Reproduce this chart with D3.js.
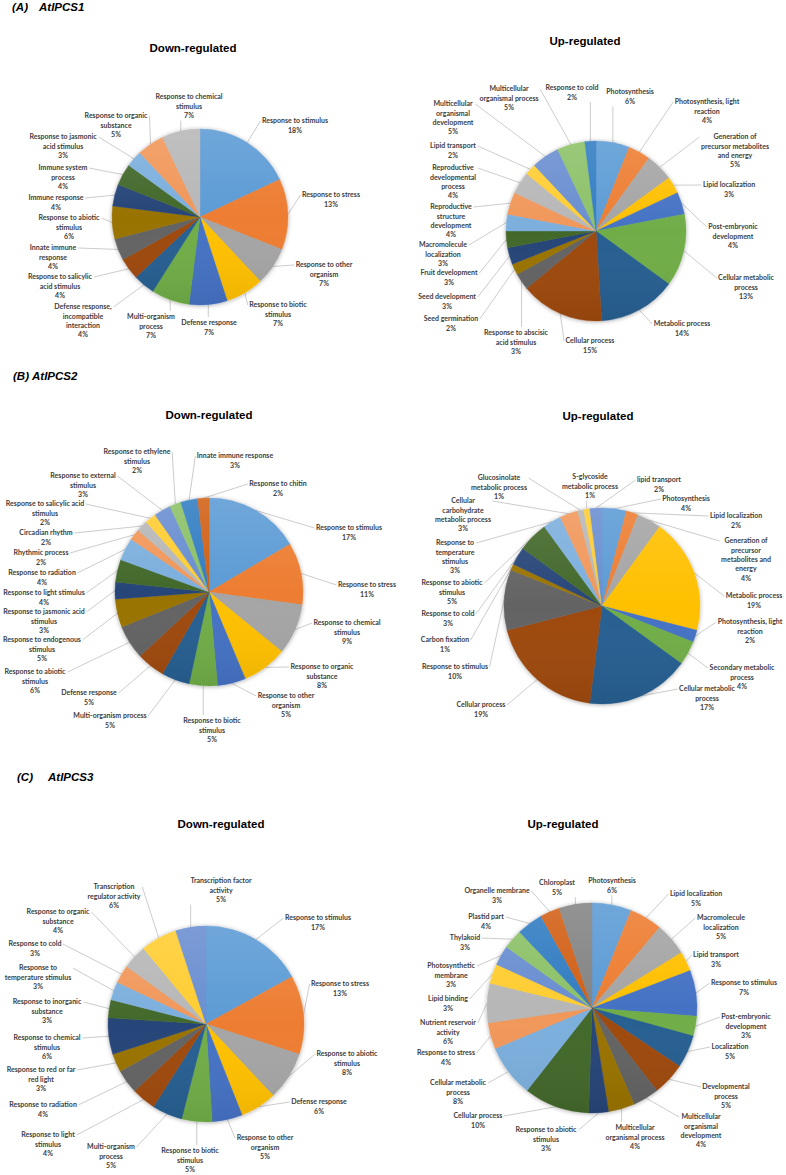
<!DOCTYPE html>
<html><head><meta charset="utf-8">
<script src="https://cdn.jsdelivr.net/npm/d3@7/dist/d3.min.js"></script>
<style>body{margin:0;background:#fff} svg{display:block}</style>
</head><body>
<svg id="chart" width="786" height="1175"></svg>
<script>
// ---------------- DATA ----------------
const palette = ["#5B9BD5","#ED7D31","#A5A5A5","#FFC000","#4472C4","#70AD47","#255E91","#9E480E","#636363","#997300","#264478","#43682B","#7CAFDD","#F1975A","#B7B7B7","#FFCD33","#698ED0","#8CC168","#327DC2","#D26012","#848484"];

const panelLetters = ["(A)","(B)","(C)"];
const geneNames = ["AtIPCS1","AtIPCS2","AtIPCS3"];
const chartTitles = ["Down-regulated","Up-regulated"];

// (A) AtIPCS1 — Down-regulated
const ipcs1DownCats = ["Response to stimulus","Response to stress","Response to other\norganism","Response to biotic\nstimulus","Defense response","Multi-organism\nprocess","Defense response,\nincompatible\ninteraction","Response to salicylic\nacid stimulus","Innate immune\nresponse","Response to abiotic\nstimulus","Immune response","Immune system\nprocess","Response to jasmonic\nacid stimulus","Response to organic\nsubstance","Response to chemical\nstimulus"];
const ipcs1DownVals = [18,13,7,7,7,7,4,4,4,6,4,4,3,5,7];

// (A) AtIPCS1 — Up-regulated
const ipcs1UpCats = ["Photosynthesis","Photosynthesis, light\nreaction","Generation of\nprecursor metabolites\nand energy","Lipid localization","Post-embryonic\ndevelopment","Cellular metabolic\nprocess","Metabolic process","Cellular process","Response to abscisic\nacid stimulus","Seed germination","Seed development","Fruit development","Macromolecule\nlocalization","Reproductive\nstructure\ndevelopment","Reproductive\ndevelopmental\nprocess","Lipid transport","Multicellular\norganismal\ndevelopment","Multicellular\norganismal process","Response to cold"];
const ipcs1UpVals = [6,4,5,3,4,13,14,15,3,2,3,3,3,4,4,2,5,5,2];

// (B) AtIPCS2 — Down-regulated
const ipcs2DownCats = ["Response to stimulus","Response to stress","Response to chemical\nstimulus","Response to organic\nsubstance","Response to other\norganism","Response to biotic\nstimulus","Multi-organism process","Defense response","Response to abiotic\nstimulus","Response to endogenous\nstimulus","Response to jasmonic acid\nstimulus","Response to light stimulus","Response to radiation","Rhythmic process","Circadian rhythm","Response to salicylic acid\nstimulus","Response to external\nstimulus","Response to ethylene\nstimulus","Innate immune response","Response to chitin"];
const ipcs2DownVals = [17,11,9,8,5,5,5,5,6,5,3,4,4,2,2,2,3,2,3,2];

// (B) AtIPCS2 — Up-regulated
const ipcs2UpCats = ["Photosynthesis","Lipid localization","Generation of\nprecursor\nmetabolites and\nenergy","Metabolic process","Photosynthesis, light\nreaction","Secondary metabolic\nprocess","Cellular metabolic\nprocess","Cellular process","Response to stimulus","Carbon fixation","Response to cold","Response to abiotic\nstimulus","Response to\ntemperature\nstimulus","Cellular\ncarbohydrate\nmetabolic process","Glucosinolate\nmetabolic process","S-glycoside\nmetabolic process","lipid transport"];
const ipcs2UpVals = [4,2,4,19,2,4,17,19,10,1,3,5,3,3,1,1,2];

// (C) AtIPCS3 — Down-regulated
const ipcs3DownCats = ["Response to stimulus","Response to stress","Response to abiotic\nstimulus","Defense response","Response to other\norganism","Response to biotic\nstimulus","Multi-organism\nprocess","Response to light\nstimulus","Response to radiation","Response to red or far\nred light","Response to chemical\nstimulus","Response to inorganic\nsubstance","Response to\ntemperature stimulus","Response to cold","Response to organic\nsubstance","Transcription\nregulator activity","Transcription factor\nactivity"];
const ipcs3DownVals = [17,13,8,6,5,5,5,4,4,3,6,3,3,3,4,6,5];

// (C) AtIPCS3 — Up-regulated
const ipcs3UpCats = ["Photosynthesis","Lipid localization","Macromolecule\nlocalization","Lipid transport","Response to stimulus","Post-embryonic\ndevelopment","Localization","Developmental\nprocess","Multicellular\norganismal\ndevelopment","Multicellular\norganismal process","Response to abiotic\nstimulus","Cellular process","Cellular metabolic\nprocess","Response to stress","Nutrient reservoir\nactivity","Lipid binding","Photosynthetic\nmembrane","Thylakoid","Plastid part","Organelle membrane","Chloroplast"];
const ipcs3UpVals = [6,5,5,3,7,3,5,5,4,4,3,10,8,4,6,3,3,3,4,3,5];

// ---------------- LAYOUT (label offsets from pie centre, first-line centre) ----------------
const ipcs1DownLabelPos = [[95,-96],[131,-22],[124,48],[78,88],[9,106],[-49,100],[-117,90],[-140,60],[-147,31],[-131,1],[-144,-19],[-137,-49],[-137,-80],[-84,-101],[-11,-120]];
const ipcs1UpLabelPos = [[34,-139],[111,-129],[139,-94],[133,-46],[137,-4],[150,47],[86,93],[-6,110],[-80,102],[-145,88],[-149,66],[-147,42],[-153,14],[-145,-24],[-143,-63],[-143,-85],[-143,-127],[-87,-142],[-24,-143]];
const ipcs2DownLabelPos = [[140,-64],[158,-7],[138,31],[113,75],[77,104],[3,129],[-99,124],[-120,101],[-174,80],[-167,48],[-165,20],[-165,1],[-167,-19],[-168,-39],[-163,-59],[-164,-88],[-126,-116],[-72,-140],[26,-136],[69,-108]];
const ipcs2UpLabelPos = [[84,-107],[134,-90],[144,-65],[152,-10],[148,16],[140,62],[105,83],[-121,99],[-147,61],[-157,34],[-154,8],[-150,-23],[-147,-63],[-139,-105],[-103,-128],[-12,-129],[57,-126]];
const ipcs3DownLabelPos = [[112,-106],[134,-40],[141,30],[113,78],[59,114],[-16,127],[-95,123],[-158,111],[-163,81],[-165,46],[-159,14],[-159,-22],[-168,-56],[-171,-80],[-148,-112],[-92,-137],[15,-143]];
const ipcs3UpLabelPos = [[20,-127],[104,-114],[129,-90],[124,-53],[152,-25],[154,9],[138,39],[134,79],[109,109],[43,120],[-46,122],[-114,108],[-134,75],[-146,45],[-144,15],[-144,-9],[-141,-42],[-127,-70],[-106,-91],[-95,-117],[-35,-125]];

const panels = [
  {letter:0, lx:12, gx:39, by:10.5},
  {letter:1, lx:13, gx:32, by:380},
  {letter:2, lx:17, gx:48, by:781}
];
const charts = [
  {cats:ipcs1DownCats, vals:ipcs1DownVals, pos:ipcs1DownLabelPos, cx:200, cy:217, r:88, title:0, tx:193, ty:51.5},
  {cats:ipcs1UpCats, vals:ipcs1UpVals, pos:ipcs1UpLabelPos, cx:596, cy:231, r:90, title:1, tx:585, ty:45},
  {cats:ipcs2DownCats, vals:ipcs2DownVals, pos:ipcs2DownLabelPos, cx:209, cy:592, r:94, title:0, tx:209, ty:419},
  {cats:ipcs2UpCats, vals:ipcs2UpVals, pos:ipcs2UpLabelPos, cx:602, cy:606, r:98, title:1, tx:598, ty:420},
  {cats:ipcs3DownCats, vals:ipcs3DownVals, pos:ipcs3DownLabelPos, cx:206, cy:1024, r:98, title:0, tx:221, ty:827.5},
  {cats:ipcs3UpCats, vals:ipcs3UpVals, pos:ipcs3UpLabelPos, cx:592, cy:1008, r:105, title:1, tx:563, ty:828}
];

const labelFont = "Lato, 'Open Sans', sans-serif";
const labelSize = 7;
const lineH = 9.3;
const labelColor = "#404040";
const leaderColor = "#BFBFBF";

// ---------------- DRAW ----------------
const svg = d3.select("#chart");
svg.append("rect").attr("width",786).attr("height",1175).attr("fill","#fff");
const defs = svg.append("defs");
const f = defs.append("filter").attr("id","shadow").attr("x","-20%").attr("y","-20%").attr("width","140%").attr("height","140%");
f.append("feDropShadow").attr("dx",0).attr("dy",0.6).attr("stdDeviation",2).attr("flood-color","#000").attr("flood-opacity",0.35);
const gr = defs.append("linearGradient").attr("id","shade").attr("x1",0).attr("y1",0).attr("x2",0).attr("y2",1);
gr.append("stop").attr("offset","0%").attr("stop-color","#fff").attr("stop-opacity",0.12);
gr.append("stop").attr("offset","50%").attr("stop-color","#fff").attr("stop-opacity",0);
gr.append("stop").attr("offset","100%").attr("stop-color","#000").attr("stop-opacity",0.07);

panels.forEach(p => {
  svg.append("text").attr("x",p.lx).attr("y",p.by).text(panelLetters[p.letter])
    .attr("font-family","'Liberation Sans', Arial, sans-serif").attr("font-weight","bold").attr("font-style","italic")
    .attr("font-size",11.5).attr("fill","#000");
  svg.append("text").attr("x",p.gx).attr("y",p.by).text(geneNames[p.letter])
    .attr("font-family","'Liberation Sans', Arial, sans-serif").attr("font-weight","bold").attr("font-style","italic")
    .attr("font-size",11.5).attr("fill","#000");
});

charts.forEach(cfg => {
  svg.append("text").attr("x",cfg.tx).attr("y",cfg.ty).attr("text-anchor","middle")
    .attr("font-family","'Liberation Sans', Arial, sans-serif").attr("font-weight","bold")
    .attr("font-size",11.5).attr("fill","#000").text(chartTitles[cfg.title]);

  const g = svg.append("g").attr("transform",`translate(${cfg.cx},${cfg.cy})`);
  const data = cfg.cats.map((c,i)=>({c, v:cfg.vals[i], pos:cfg.pos[i], color:palette[i % palette.length]}));
  const pie = d3.pie().sort(null).value(d=>d.v);
  const arcs = pie(data);
  const arc = d3.arc().innerRadius(0).outerRadius(cfg.r);
  const edge = d3.arc().innerRadius(cfg.r).outerRadius(cfg.r);

  const leaderG = g.append("g");
  const pg = g.append("g").attr("filter","url(#shadow)");
  pg.selectAll("path").data(arcs).join("path")
    .attr("d",arc).attr("fill",d=>d.data.color)
    .attr("stroke",d=>d.data.color).attr("stroke-width",0.4);
  g.append("circle").attr("r",cfg.r).attr("fill","url(#shade)");

  const lg = g.append("g");
  arcs.forEach(d => {
    const [px,py] = d.data.pos;
    const lines = d.data.c.split("\n").concat([d.data.v + "%"]);
    const t = lg.append("text").attr("text-anchor","middle")
      .attr("font-family",labelFont).attr("font-weight",700)
      .attr("font-size",labelSize).attr("fill",labelColor);
    lines.forEach((ln,k)=>{
      t.append("tspan").attr("x",px).attr("y",py + k*lineH).attr("dy","0.35em").text(ln);
    });
    const bb = t.node().getBBox();
    const s = edge.centroid(d);
    const pad = 1.5;
    const x0 = bb.x - pad, x1 = bb.x + bb.width + pad, y0 = bb.y - pad, y1 = bb.y + bb.height + pad;
    let ex, ey;
    if (s[0] >= x0 && s[0] <= x1) {
      ex = s[0]; ey = s[1] < y0 ? y0 : y1;
      if (s[1] >= y0 && s[1] <= y1) return;
    } else {
      ex = s[0] < x0 ? x0 : x1;
      ey = py;
    }
    if (Math.hypot(ex - s[0], ey - s[1]) < 2) return;
    leaderG.append("line").attr("x1",s[0]).attr("y1",s[1]).attr("x2",ex).attr("y2",ey)
      .attr("stroke",leaderColor).attr("stroke-width",0.8);
  });
});
</script>
</body></html>
